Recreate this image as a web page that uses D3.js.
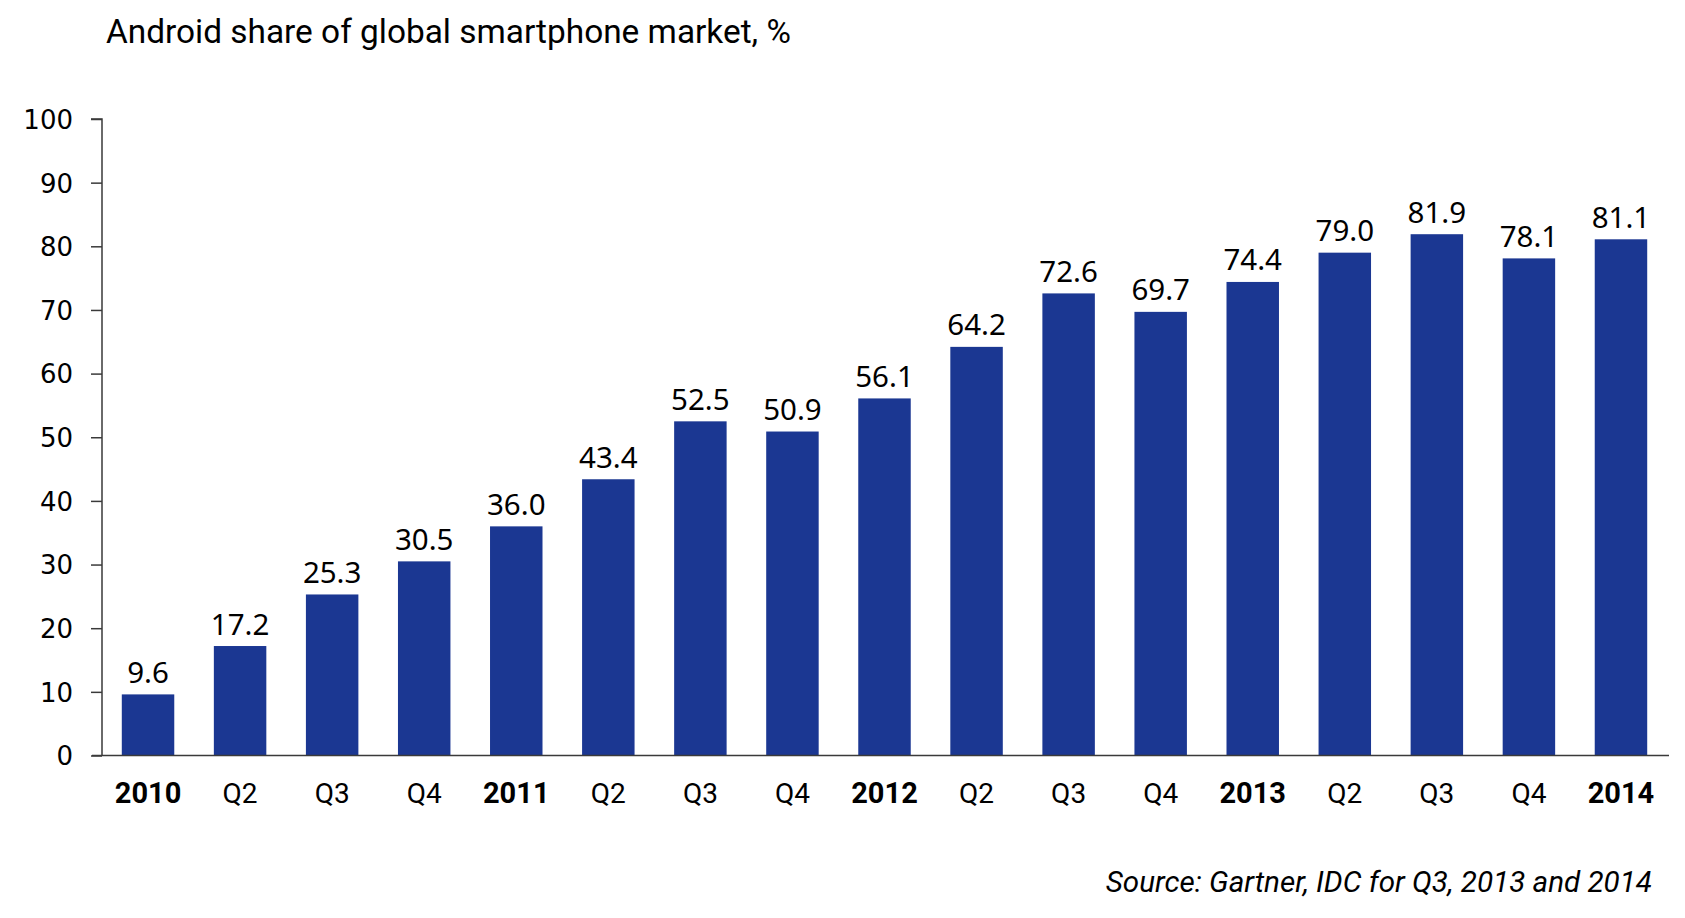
<!DOCTYPE html>
<html>
<head>
<meta charset="utf-8">
<script src="https://cdn.jsdelivr.net/npm/d3@7"></script>
<style>
  html, body { margin: 0; padding: 0; background: #fff; }
  svg { display: block; }
</style>
</head>
<body>
<svg id="chart" width="1685" height="918"></svg>
<script>
const categories = ["2010","Q2","Q3","Q4","2011","Q2","Q3","Q4","2012","Q2","Q3","Q4","2013","Q2","Q3","Q4","2014"];
const yearFlags = [true,false,false,false,true,false,false,false,true,false,false,false,true,false,false,false,true];
const shares = [9.6,17.2,25.3,30.5,36.0,43.4,52.5,50.9,56.1,64.2,72.6,69.7,74.4,79.0,81.9,78.1,81.1];
const yTicks = [0,10,20,30,40,50,60,70,80,90,100];
const titleText = "Android share of global smartphone market, %";
const sourceText = "Source: Gartner, IDC for Q3, 2013 and 2014";

const data = categories.map((c, i) => ({ key: i, label: c, year: yearFlags[i], value: shares[i] }));

const svg = d3.select("#chart");
const x0 = 102, x1 = 1667, yTop = 119, yBase = 755.5;

const x = d3.scaleBand().domain(data.map(d => d.key)).range([x0, x1]).paddingInner(0.43).paddingOuter(0.215);
const y = d3.scaleLinear().domain([0, 100]).range([yBase, yTop]);

const barColor = "#1b3792";
const axisColor = "#3a3a3a";

// title
svg.append("text").attr("x", 106).attr("y", 42.5)
  .attr("font-family", "Roboto").attr("font-size", 33.4).attr("fill", "#000")
  .text(titleText);

// bars
svg.append("g").selectAll("rect").data(data).join("rect")
  .attr("x", d => x(d.key)).attr("width", x.bandwidth())
  .attr("y", d => y(d.value)).attr("height", d => y(0) - y(d.value))
  .attr("fill", barColor);

// value labels
svg.append("g").selectAll("text").data(data).join("text")
  .attr("x", d => x(d.key) + x.bandwidth() / 2)
  .attr("y", d => y(d.value) - 11.5)
  .attr("text-anchor", "middle")
  .attr("font-family", "Noto Sans").attr("font-size", 29.5).attr("fill", "#000")
  .text(d => d.value.toFixed(1));

// y axis
const yAxis = d3.axisLeft(y).tickValues(yTicks).tickSize(11).tickPadding(18).tickFormat(d3.format("d"));
const gy = svg.append("g").attr("transform", `translate(${x0},0)`).call(yAxis);
gy.select(".domain").attr("stroke", axisColor).attr("stroke-width", 1.5).attr("d", `M-11,${yTop}H0V${yBase}`);
gy.selectAll(".tick line").attr("stroke", axisColor).attr("stroke-width", 1.5);
gy.selectAll(".tick text").attr("font-family", "DejaVu Sans").attr("font-size", 26).attr("fill", "#000").attr("dy", "0.36em");

// x axis
const xAxis = d3.axisBottom(x).tickSize(0).tickPadding(0).tickFormat(k => categories[k]);
const gx = svg.append("g").attr("transform", `translate(0,${yBase})`).call(xAxis);
gx.select(".domain").attr("stroke", axisColor).attr("stroke-width", 1.5).attr("d", `M92,0H${x1 + 2}`);
gx.selectAll(".tick text")
  .attr("font-family", "Roboto").attr("fill", "#000")
  .attr("dy", null).attr("y", 47)
  .attr("font-size", k => yearFlags[k] ? 29 : 28)
  .attr("font-weight", k => yearFlags[k] ? 700 : 400);

// source
svg.append("text").attr("x", 1652).attr("y", 892).attr("text-anchor", "end")
  .attr("font-family", "Roboto").attr("font-style", "italic").attr("font-size", 29.6).attr("fill", "#000")
  .text(sourceText);
</script>
</body>
</html>
